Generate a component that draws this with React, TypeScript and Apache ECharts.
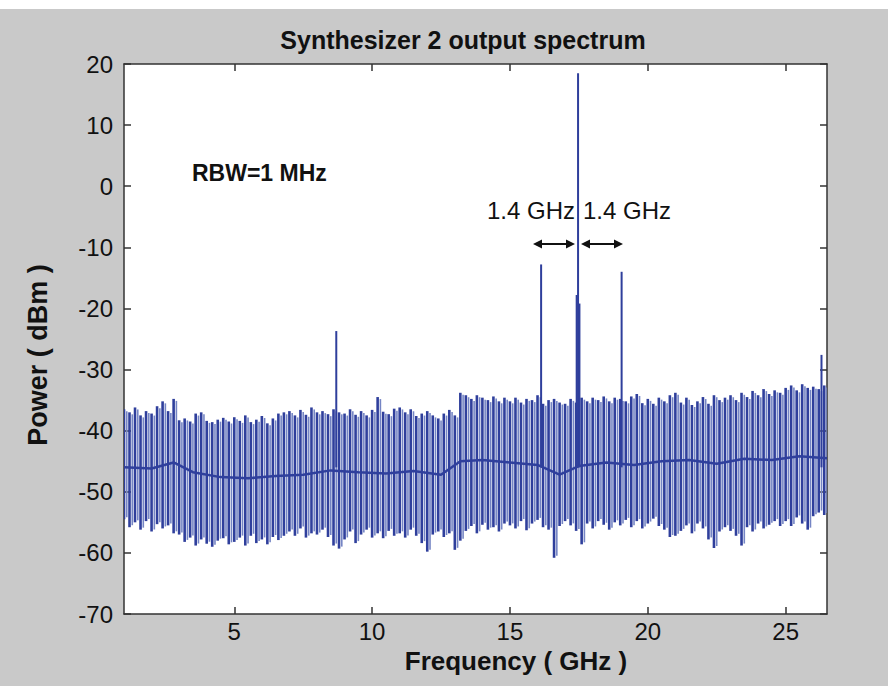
import React, { useEffect, useRef } from "react";
import * as echarts from "echarts";

// ---- data ----
const titleText = "Synthesizer 2 output spectrum";
const xAxisName = "Frequency ( GHz )";
const yAxisName = "Power ( dBm )";
const xTickValues = [5, 10, 15, 20, 25];
const yMin = -70;
const yMax = 20;
const yStep = 10;
const xMin = 1;
const xMax = 26.5;

// noise floor columns (one up/down swing every 0.2 GHz, starting at 1.0 GHz)
const noiseStartGHz = 1.0;
const noiseStepGHz = 0.2;
const noiseTop = [
  -36.5, -37, -36.2, -37.5, -36.8, -37.2, -36, -35.2, -36.8, -34.8,
  -38.3, -38, -38.5, -37.2, -37, -38.4, -38.6, -38.2, -37.9, -38.5,
  -37.8, -38.4, -37.5, -38.6, -38.2, -37.6, -38.8, -38.0, -37.2, -37.0,
  -36.8, -37.5, -36.6, -37.4, -36.2, -37, -36.8, -37.3, -36.5, -37,
  -37.2, -36.5, -37.4, -36.8, -37.5, -36.6, -34.5, -36.9, -37.3, -36.4,
  -36.2, -37, -36.5, -37.6, -37.2, -36.8, -37.5, -38, -37.2, -36.6,
  -37.5, -33.8, -34.2, -34.8, -34.2, -34.6, -35, -34.4, -35.2, -34.6,
  -35.2, -34.6, -35.4, -34.8, -35, -34.2, -35.6, -35, -34.8, -35.4,
  -35.6, -34.8, -35.4, -34.6, -35.2, -34.6, -35, -34.4, -35.2, -34.6,
  -34.8, -35.2, -34.4, -34, -35.5, -34.8, -35.6, -34.6, -35.2, -34.2,
  -33.8, -35.4, -34.6, -35.8, -35.2, -34.5, -35.6, -34.2, -35, -34.6,
  -34.2, -35, -33.8, -34.5, -33.5, -34.2, -33.2, -34, -33.4, -33.8,
  -33, -32.6, -33.4, -32.4, -33, -32.8, -33.2, -32.6,
];
const noiseBottom = [
  -54.5, -55.8, -55, -56.2, -54.8, -56.5, -55.3, -56, -55.5, -56.8,
  -57, -58.2, -57.5, -58.8, -57.8, -58.5, -59, -58, -57.6, -58.6,
  -58.2, -57.5, -58.8, -57.2, -58.4, -57.8, -58.6, -57.4, -57.9, -57.2,
  -56.5, -57.2, -56, -57.5, -56.8, -57, -56.2, -57.4, -58.8, -59.3,
  -57.8, -56.5, -58.4, -57, -56.2, -57.5, -56.8, -57.6, -56.4, -57.2,
  -56.8, -57.5, -56.2, -57.2, -58.4, -59.8, -57, -56.5, -57.4, -56.8,
  -59.5, -58, -56.4, -55.6, -56.8, -55.4, -56.2, -55.8, -56.5, -55.2,
  -55.5, -56, -54.8, -56.3, -55.2, -54.6, -55.8, -56.2, -60.8, -55.6,
  -54.8, -55.5, -56.4, -58.6, -55.2, -56, -54.8, -55.4, -56.2, -55,
  -55.5, -54.6, -55.8, -54.8, -56, -55.2, -54.4, -55.6, -56.2, -57.4,
  -57.2, -56.4, -55.5, -56.8, -55.2, -56, -57.8, -59.2, -56.5, -55.8,
  -56.4, -57.2, -58.8, -55.8, -56.5, -55.2, -56, -55.4, -54.8, -55.6,
  -54.8, -55.6, -54.2, -55.2, -56.2, -54, -53.4, -53.8,
];

// average (middle) band of the noise floor
const midFreq = [1, 2, 2.8, 3.5, 4.5, 5.5, 6.5, 7.5, 8.5, 9.5, 10.5, 11.5, 12.5, 13.2, 14, 15, 16, 16.8, 17.5, 18.5, 19.5, 20.5, 21.5, 22.5, 23.5, 24.5, 25.5, 26.5];
const midLevel = [-46, -46.2, -45.2, -46.8, -47.6, -47.8, -47.4, -47.2, -46.5, -46.8, -47, -46.6, -47.2, -45, -44.8, -45.2, -45.6, -47.2, -45.8, -45.2, -45.6, -45, -44.8, -45.4, -44.6, -44.8, -44.2, -44.5];

// discrete spurs / carrier
const spikeFreq = [8.7, 16.13, 17.47, 17.42, 17.52, 19.05, 26.3];
const spikeTop = [-23.7, -12.8, 18.5, -17.8, -19.2, -14.0, -27.6];
const spikeBase = -46;

const BLUE = "#2f3f9c";
const LIGHT_BLUE = "#7585c4";
const FONT = "'Liberation Sans', Arial, sans-serif";

export default function App() {
  const ref = useRef<HTMLDivElement>(null);

  useEffect(() => {
    if (!ref.current) return;
    const chart = echarts.init(ref.current, null, { renderer: "svg" });

    const noiseData = noiseTop.map((t, i) => [
      noiseStartGHz + i * noiseStepGHz,
      noiseBottom[i],
      t,
    ]);
    const midData = midFreq.map((f, i) => [f, midLevel[i]]);
    const spikeData = spikeFreq.map((f, i) => [f, spikeBase, spikeTop[i]]);

    // dark down-stroke plus lighter return stroke for each noise column
    const noiseItem = (params: any, api: any) => {
      const x = api.value(0);
      const p1 = api.coord([x, api.value(1)]);
      const p2 = api.coord([x, api.value(2)]);
      const half = api.size([noiseStepGHz / 2, 0])[0];
      return {
        type: "group",
        children: [
          {
            type: "line",
            shape: { x1: p1[0] + half, y1: p1[1] - 2, x2: p2[0] + half, y2: p2[1] + 2 },
            style: { stroke: LIGHT_BLUE, lineWidth: 1.6 },
          },
          {
            type: "line",
            shape: { x1: p1[0], y1: p1[1], x2: p2[0], y2: p2[1] },
            style: { stroke: BLUE, lineWidth: 2.6 },
          },
        ],
      };
    };

    const spikeItem = (params: any, api: any) => {
      const x = api.value(0);
      const p1 = api.coord([x, api.value(1)]);
      const p2 = api.coord([x, api.value(2)]);
      return {
        type: "line",
        shape: { x1: p1[0], y1: p1[1], x2: p2[0], y2: p2[1] },
        style: { stroke: BLUE, lineWidth: 2 },
      };
    };

    const arrow = (x1: number, x2: number, y: number) => {
      const h = 9;
      const hw = 4.5;
      return [
        { type: "line", shape: { x1: x1 + 3, y1: y, x2: x2 - 3, y2: y }, style: { stroke: "#111", lineWidth: 2 } },
        { type: "polygon", shape: { points: [[x1, y], [x1 + h, y - hw], [x1 + h, y + hw]] }, style: { fill: "#111" } },
        { type: "polygon", shape: { points: [[x2, y], [x2 - h, y - hw], [x2 - h, y + hw]] }, style: { fill: "#111" } },
      ];
    };

    const axisLineStyle = { color: "#333", width: 1.5 };

    chart.setOption({
      animation: false,
      backgroundColor: "#c9c9c9",
      grid: { left: 124, top: 64, right: 61, bottom: 72, show: true, backgroundColor: "#ffffff", borderWidth: 0 },
      xAxis: [
        {
          type: "value",
          min: xMin,
          max: xMax,
          position: "bottom",
          axisLine: { show: true, onZero: false, lineStyle: axisLineStyle },
          axisTick: { show: true, inside: true, length: 7, customValues: xTickValues, lineStyle: axisLineStyle },
          axisLabel: { customValues: xTickValues, fontFamily: FONT, fontSize: 24, color: "#111", margin: 5 },
          splitLine: { show: false },
        },
        {
          type: "value",
          min: xMin,
          max: xMax,
          position: "top",
          axisLine: { show: true, onZero: false, lineStyle: axisLineStyle },
          axisTick: { show: true, inside: true, length: 7, customValues: xTickValues, lineStyle: axisLineStyle },
          axisLabel: { show: false },
          splitLine: { show: false },
        },
      ],
      yAxis: [
        {
          type: "value",
          min: yMin,
          max: yMax,
          interval: yStep,
          position: "left",
          axisLine: { show: true, onZero: false, lineStyle: axisLineStyle },
          axisTick: { show: true, inside: true, length: 7, lineStyle: axisLineStyle },
          axisLabel: { fontFamily: FONT, fontSize: 24, color: "#111", margin: 11 },
          splitLine: { show: false },
        },
        {
          type: "value",
          min: yMin,
          max: yMax,
          interval: yStep,
          position: "right",
          axisLine: { show: true, onZero: false, lineStyle: axisLineStyle },
          axisTick: { show: true, inside: true, length: 7, lineStyle: axisLineStyle },
          axisLabel: { show: false },
          splitLine: { show: false },
        },
      ],
      series: [
        {
          type: "custom",
          name: "noise",
          renderItem: noiseItem,
          data: noiseData,
          encode: { x: 0, y: [1, 2] },
          clip: true,
          silent: true,
        },
        {
          type: "line",
          name: "mid",
          data: midData,
          showSymbol: false,
          lineStyle: { color: BLUE, width: 2.5 },
          silent: true,
        },
        {
          type: "custom",
          name: "spurs",
          renderItem: spikeItem,
          data: spikeData,
          encode: { x: 0, y: [1, 2] },
          clip: true,
          silent: true,
        },
      ],
      graphic: [
        { type: "rect", left: 0, top: 0, shape: { width: 888, height: 9 }, style: { fill: "#ffffff" }, silent: true },
        {
          type: "text",
          x: 463,
          y: 40,
          style: { text: titleText, font: `bold 25px ${FONT}`, fill: "#111", align: "center", verticalAlign: "middle" },
        },
        {
          type: "text",
          x: 516,
          y: 661,
          style: { text: xAxisName, font: `bold 26px ${FONT}`, fill: "#111", align: "center", verticalAlign: "middle" },
        },
        {
          type: "text",
          x: 38,
          y: 355,
          rotation: Math.PI / 2,
          style: { text: yAxisName, font: `bold 27px ${FONT}`, fill: "#111", align: "center", verticalAlign: "middle" },
        },
        {
          type: "text",
          x: 192,
          y: 173,
          style: { text: "RBW=1 MHz", font: `bold 23px ${FONT}`, fill: "#111", verticalAlign: "middle" },
        },
        {
          type: "text",
          x: 487,
          y: 210,
          style: { text: "1.4 GHz", font: `24px ${FONT}`, fill: "#111", verticalAlign: "middle" },
        },
        {
          type: "text",
          x: 583,
          y: 210,
          style: { text: "1.4 GHz", font: `24px ${FONT}`, fill: "#111", verticalAlign: "middle" },
        },
        ...arrow(533, 575, 244),
        ...arrow(581, 623, 244),
      ],
    });

    return () => chart.dispose();
  }, []);

  return (
    <div
      ref={ref}
      style={{ position: "fixed", left: 0, top: 0, width: 888, height: 686 }}
    />
  );
}
